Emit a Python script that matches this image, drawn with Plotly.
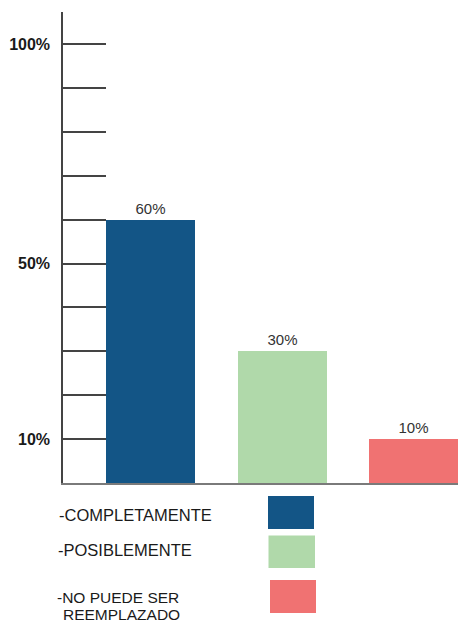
import plotly.graph_objects as go

# Survey result: can the item be replaced?
categories = ["COMPLETAMENTE", "POSIBLEMENTE", "NO PUEDE SER REEMPLAZADO"]
values = [60, 30, 10]
bar_colors = ["#135586", "#B0D9AA", "#F07272"]
legend_labels = ["-COMPLETAMENTE", "-POSIBLEMENTE", "-NO PUEDE SER", "REEMPLAZADO"]

tick_values = [10, 20, 30, 40, 50, 60, 70, 80, 90, 100]
tick_labels = ["10%", "", "", "", "50%", "", "", "", "", "100%"]

FIG_W, FIG_H = 458, 622
L, R, T, B = 63, 0, 12, 139
PW, PH = FIG_W - L - R, FIG_H - T - B


def px_x(px):
    return (px - L) / PW


def px_y(py):
    return (FIG_H - B - py) / PH


fig = go.Figure()
fig.add_trace(go.Bar(
    x=[0, 1, 2],
    y=values,
    width=0.677,
    marker=dict(color=bar_colors, line=dict(width=0)),
    text=[f"{v}%" for v in values],
    texttemplate="%{text}",
    textposition="outside",
    textfont=dict(family="Liberation Sans, Arial, sans-serif", size=15, color="#333333"),
    cliponaxis=False,
    hovertext=categories,
    showlegend=False,
))

fig.update_layout(
    width=FIG_W, height=FIG_H,
    margin=dict(l=L, r=R, t=T, b=B, pad=0),
    paper_bgcolor="white",
    plot_bgcolor="white",
    bargap=0,
    xaxis=dict(
        range=[-0.669, 2.335],
        showticklabels=False,
        ticks="",
        showgrid=False,
        zeroline=False,
        showline=True,
        linecolor="#7a7a7a",
        linewidth=2,
    ),
    yaxis=dict(
        range=[0, 107.3],
        tickvals=tick_values,
        ticktext=tick_labels,
        ticks="inside",
        ticklen=43,
        tickwidth=1.5,
        tickcolor="#444444",
        tickfont=dict(family="Liberation Sans, Arial, sans-serif", size=16, color="#1a1a1a", weight="bold"),
        ticklabelstandoff=8,
        showgrid=False,
        zeroline=False,
        showline=True,
        linecolor="#444444",
        linewidth=1.5,
    ),
)

# Legend swatches beneath the chart
swatches = [
    (268, 314, 496, 529, bar_colors[0]),
    (268.5, 315, 535.5, 568, bar_colors[1]),
    (270, 316, 580, 613, bar_colors[2]),
]
for x0, x1, y0, y1, col in swatches:
    fig.add_shape(
        type="rect", xref="paper", yref="paper",
        x0=px_x(x0), x1=px_x(x1), y0=px_y(y1), y1=px_y(y0),
        fillcolor=col, line=dict(width=0), layer="above",
    )

# Legend texts: (left px, centre px, font size)
legend_pos = [(57, 514.5, 16.5), (56, 550, 16.5), (55, 597, 15.5), (61, 614, 15.5)]
for text, (lx, ly, fs) in zip(legend_labels, legend_pos):
    fig.add_annotation(
        xref="paper", yref="paper",
        x=px_x(lx), y=px_y(ly),
        xanchor="left", yanchor="middle", align="left",
        text=text, showarrow=False,
        font=dict(family="Liberation Sans, Arial, sans-serif", size=fs, color="#1a1a1a"),
    )

fig.write_html("out.html")
